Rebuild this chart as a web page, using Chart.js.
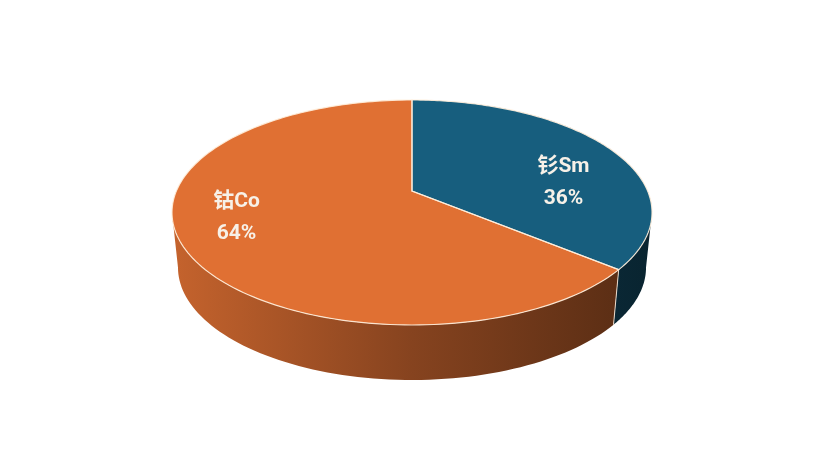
<!DOCTYPE html>
<html lang="zh-CN">
<head>
<meta charset="UTF-8">
<title>钐钴比例</title>
<style>
    html, body { margin: 0; padding: 0; background: #fff; }
    #caixa { width: 820px; height: 460px; }
</style>
</head>
<body>
<div id="caixa">
    <canvas id="grafico" width="820" height="460"></canvas>
</div>

<script src="https://cdn.jsdelivr.net/npm/chart.js"></script>
<script>
// dados
const categorias = ['钐Sm', '钴Co'];
const valores = [36, 64];

// cores do topo de cada fatia
const coresTopo = ['#175E7E', '#E07033'];

function rgb(hex) {
    return [1, 3, 5].map(function(i) { return parseInt(hex.substr(i, 2), 16); });
}
function escurecer(hex, f) {
    const c = rgb(hex).map(function(v) { return Math.round(v * f); });
    return 'rgb(' + c.join(',') + ')';
}

// desenha a pizza em 3D usando os angulos que o Chart.js calculou
const pizza3d = {
    id: 'pizza3d',
    beforeDatasetsDraw() { return false; },
    afterDraw(chart, args, opt) {
        const ctx = chart.ctx;
        const arcos = chart.getDatasetMeta(0).data;
        const cores = chart.data.datasets[0].backgroundColor;
        const R = arcos[0].outerRadius;
        const cx = arcos[0].x, cy = arcos[0].y;
        const a = R * opt.rx, b = R * opt.ry, k = opt.k;
        const D = R * opt.altura, s = opt.encolhe;

        function proj(t, r, baixo) {
            const u = r * Math.cos(t), v = r * Math.sin(t);
            const w = 1 - k * v;
            let x = a * u / w, y = b * v / w;
            if (baixo) { x *= s; y += D; }
            return [cx + x, cy + y];
        }

        const tDir = Math.asin(k), tEsq = Math.PI - Math.asin(k);
        const xEsq = proj(tEsq, 1, false)[0], xDir = proj(tDir, 1, false)[0];

        // paredes laterais
        const bordas = [];
        arcos.forEach(function(arc, i) {
            [-2 * Math.PI, 0, 2 * Math.PI].forEach(function(off) {
                const t1 = Math.max(arc.startAngle + off, tDir);
                const t2 = Math.min(arc.endAngle + off, tEsq);
                if (t2 <= t1) return;
                const grad = ctx.createLinearGradient(xEsq, 0, xDir, 0);
                grad.addColorStop(0, escurecer(cores[i], 0.88));
                grad.addColorStop(0.5, escurecer(cores[i], 0.6));
                grad.addColorStop(1, escurecer(cores[i], 0.38));
                ctx.beginPath();
                const n = 80;
                for (let j = 0; j <= n; j++) {
                    const p = proj(t1 + (t2 - t1) * j / n, 1, false);
                    j === 0 ? ctx.moveTo(p[0], p[1]) : ctx.lineTo(p[0], p[1]);
                }
                for (let j = n; j >= 0; j--) {
                    const p = proj(t1 + (t2 - t1) * j / n, 1, true);
                    ctx.lineTo(p[0], p[1]);
                }
                ctx.closePath();
                ctx.fillStyle = grad;
                ctx.fill();
                if (t1 > tDir) bordas.push(t1);
            });
        });

        // linha entre as paredes
        ctx.strokeStyle = 'rgba(255,240,225,0.85)';
        ctx.lineWidth = 1;
        bordas.forEach(function(t) {
            const p1 = proj(t, 1, false), p2 = proj(t, 1, true);
            ctx.beginPath();
            ctx.moveTo(p1[0], p1[1]);
            ctx.lineTo(p2[0], p2[1]);
            ctx.stroke();
        });

        // topo
        arcos.forEach(function(arc, i) {
            const c = proj(0, 0, false);
            ctx.beginPath();
            ctx.moveTo(c[0], c[1]);
            const n = 160;
            for (let j = 0; j <= n; j++) {
                const p = proj(arc.startAngle + (arc.endAngle - arc.startAngle) * j / n, 1, false);
                ctx.lineTo(p[0], p[1]);
            }
            ctx.closePath();
            ctx.fillStyle = cores[i];
            ctx.fill();
        });
        arcos.forEach(function(arc) {
            const c = proj(0, 0, false);
            ctx.beginPath();
            ctx.moveTo(c[0], c[1]);
            const n = 160;
            for (let j = 0; j <= n; j++) {
                const p = proj(arc.startAngle + (arc.endAngle - arc.startAngle) * j / n, 1, false);
                ctx.lineTo(p[0], p[1]);
            }
            ctx.closePath();
            ctx.strokeStyle = 'rgba(255,238,220,0.9)';
            ctx.lineWidth = 1.2;
            ctx.stroke();
        });

        // rotulos
        const total = valores.reduce(function(x, y) { return x + y; }, 0);
        ctx.fillStyle = '#F7F1E8';
        ctx.font = 'bold 21px Roboto, "Noto Sans CJK SC", sans-serif';
        ctx.textAlign = 'center';
        ctx.textBaseline = 'middle';
        arcos.forEach(function(arc, i) {
            const m = (arc.startAngle + arc.endAngle) / 2;
            const x = cx + R * opt.rotX + R * opt.rotA * Math.cos(m);
            const y = cy + R * opt.rotY + R * opt.rotB * Math.sin(m);
            ctx.fillText(categorias[i], x, y - 16);
            ctx.fillText(Math.round(valores[i] / total * 100) + '%', x, y + 16);
        });
    }
};

new Chart(document.getElementById('grafico'), {
    type: 'pie',
    data: {
        labels: categorias,
        datasets: [{
            data: valores,
            backgroundColor: coresTopo,
            borderWidth: 0
        }]
    },
    options: {
        responsive: false,
        animation: false,
        layout: { padding: { left: 4, bottom: 78 } },
        plugins: {
            legend: { display: false },
            tooltip: { enabled: false },
            pizza3d: {
                rx: 1.2335, ry: 0.5675, k: 0.191,
                altura: 0.288, encolhe: 0.975,
                rotX: -0.063, rotY: 0.047, rotA: 0.946, rotB: 0.215
            }
        }
    },
    plugins: [pizza3d]
});
</script>
</body>
</html>
